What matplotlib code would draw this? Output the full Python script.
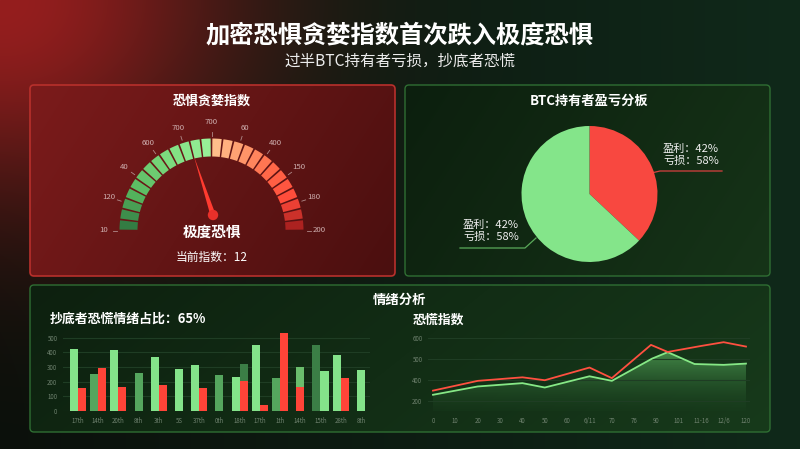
import numpy as np
import matplotlib
matplotlib.use('Agg')
import matplotlib.pyplot as plt
from matplotlib.patches import FancyBboxPatch, Wedge, Polygon, Circle
from matplotlib.colors import to_rgb, LinearSegmentedColormap

plt.rcParams['font.family'] = ['Noto Sans CJK SC', 'DejaVu Sans']

# ---------------- data ----------------
main_title = "加密恐惧贪婪指数首次跌入极度恐惧"
sub_title = "过半BTC持有者亏损，抄底者恐慌"

gauge_title = "恐惧贪婪指数"
gauge_tick_labels = ["10", "120", "40", "600", "700", "700", "60", "400", "150", "180", "200"]
gauge_state = "极度恐惧"
gauge_value_text = "当前指数：12"
needle_position = 0.40          # fraction of the gauge arc, left -> right

pie_title = "BTC持有者盈亏分板"
pie_values = [37, 63]           # red slice, green slice (as drawn)
pie_label_text = "盈利：42%\n亏损：58%"

section_title = "情绪分析"
bar_title = "抄底者恐慌情绪占比：65%"
bar_categories = ["17th", "14th", "20th", "8th", "3th", "5S", "37th", "0th",
                  "18th", "17th", "1th", "14th", "15th", "28th", "8th"]
bar_primary = [424, 253, 417, 258, 369, 286, 313, 244, 235, 449, 224, 0, 454, 382, 281]
bar_primary_shade = ["light", "mid", "light", "mid", "light", "light", "light", "mid",
                     "light", "light", "mid", "light", "dark", "light", "light"]
bar_red = [154, 295, 166, 0, 175, 0, 159, 0, 205, 44, 530, 164, 0, 226, 0]
bar_top = [0, 0, 0, 0, 0, 0, 0, 0, 323, 0, 0, 300, 274, 0, 0]
bar_top_shade = ["", "", "", "", "", "", "", "", "dark", "", "", "mid2", "light", "", ""]
bar_yticks = [0, 100, 200, 300, 400, 500]

line_title = "恐慌指数"
line_categories = ["0", "10", "20", "30", "40", "50", "60", "6/11", "70", "76",
                   "90", "101", "11-16", "12/6", "120"]
red_x = [0, 2, 4, 5, 7, 8, 9.75, 10.5, 12, 13, 14]
red_y = [348, 395, 412, 398, 459, 408, 568, 534, 563, 581, 560]
green_x = [0, 2, 4, 5, 7, 8, 9.8, 10.5, 11.7, 13, 14]
green_y = [328, 368, 384, 363, 417, 395, 502, 533, 476, 472, 478]
line_yticks = [300, 400, 500, 600]
line_yticklabels = ["200", "400", "500", "600"]

# ---------------- figure ----------------
W, H = 800, 449
fig = plt.figure(figsize=(8, 4.49), dpi=100)
bg = fig.add_axes([0, 0, 1, 1])
bg.set_xlim(0, W)
bg.set_ylim(0, H)
bg.axis('off')


def Y(y):
    return H - y


def rgb(h):
    return np.array(to_rgb(h))


# background gradient
yy, xx = np.mgrid[0:H, 0:W].astype(float)
tx = xx / W
base = rgb('#0a100b')[None, None, :] * (1 - tx[..., None]) + rgb('#10291a')[None, None, :] * tx[..., None]
d = np.sqrt(xx ** 2 + (yy * 1.15) ** 2)
wr = np.exp(-(d / 235) ** 2)[..., None]
img = base * (1 - wr) + rgb('#951e1e')[None, None, :] * wr
bg.imshow(img, extent=[0, W, 0, H], origin='upper', aspect='auto', zorder=0)


def panel(x0, y0, x1, y1, c0, c1, edge, lw=1.0, mix=(0.75, 0.25)):
    p = FancyBboxPatch((x0, Y(y1)), x1 - x0, y1 - y0,
                       boxstyle="round,pad=0,rounding_size=4",
                       facecolor='none', edgecolor=edge, lw=lw, zorder=3)
    bg.add_patch(p)
    hh, ww = int(y1 - y0), int(x1 - x0)
    gy, gx = np.mgrid[0:hh, 0:ww].astype(float)
    t = np.clip(mix[0] * gx / ww + mix[1] * gy / hh, 0, 1)[..., None]
    pim = rgb(c0)[None, None, :] * (1 - t) + rgb(c1)[None, None, :] * t
    im = bg.imshow(pim, extent=[x0, x1, Y(y1), Y(y0)], origin='upper', aspect='auto', zorder=1)
    clip = FancyBboxPatch((x0, Y(y1)), x1 - x0, y1 - y0,
                          boxstyle="round,pad=0,rounding_size=4", transform=bg.transData)
    im.set_clip_path(clip)


panel(30, 85, 395, 276, '#7c1b1b', '#4a0f0f', '#b8302c', lw=1.2)
panel(405, 85, 770, 276, '#0c1f0e', '#163418', '#2f6e33')
panel(30, 285, 770, 432, '#0d200f', '#173a1b', '#2f6e33', mix=(0.8, 0.2))
bg.set_xlim(0, W)
bg.set_ylim(0, H)

# titles
bg.text(400, Y(35), main_title, color='white', fontsize=17.5, fontweight='bold',
        ha='center', va='center', zorder=5)
bg.text(400, Y(61), sub_title, color='#ececec', fontsize=11.2,
        ha='center', va='center', zorder=5)

# ---------------- gauge ----------------
bg.text(212, Y(101), gauge_title, color='white', fontsize=9.4, fontweight='bold',
        ha='center', va='center', zorder=5)
cx, cy = 211.5, Y(230.5)
nseg = 26
step = 180 / nseg
seg_cmap = LinearSegmentedColormap.from_list('g', [
    (0.0, '#2f7540'), (0.15, '#58b860'), (0.33, '#7ddc7f'), (0.499, '#9af29a'),
    (0.501, '#ffc490'), (0.62, '#ff9a6c'), (0.75, '#ff6848'), (0.88, '#ff4a3a'),
    (1.0, '#a01c1c')])
for i in range(nseg):
    t2 = 180 - i * step - 0.55
    t1 = 180 - (i + 1) * step + 0.55
    col = seg_cmap((i + 0.5) / nseg)
    bg.add_patch(Wedge((cx, cy), 92, t1, t2, width=18, facecolor=col,
                       edgecolor='none', zorder=4))
for k, lab in enumerate(gauge_tick_labels):
    a = np.deg2rad(180 - k * 18)
    bg.plot([cx + 95 * np.cos(a), cx + 99 * np.cos(a)],
            [cy + 95 * np.sin(a), cy + 99 * np.sin(a)], color='#b08a8a', lw=0.6, zorder=4)
    bg.text(cx + 108 * np.cos(a), cy + 108 * np.sin(a), lab, color='#cfb0b0',
            fontsize=5.6, ha='center', va='center', zorder=5)

px, py = 213, Y(215)
ang = np.deg2rad(180 - needle_position * 180)
L = 62
tipx, tipy = px + L * np.cos(ang), py + L * np.sin(ang)
nx, ny = -np.sin(ang), np.cos(ang)
bg.add_patch(Polygon([[px + 2.6 * nx, py + 2.6 * ny], [tipx, tipy],
                      [px - 2.6 * nx, py - 2.6 * ny]], closed=True,
                     facecolor='#ff3b30', edgecolor='none', zorder=6))
bg.add_patch(Circle((px, py), 5.2, facecolor='#e8302a', edgecolor='none', zorder=7))
bg.text(212, Y(232), gauge_state, color='white', fontsize=10.5, fontweight='bold',
        ha='center', va='center', zorder=7)
bg.text(212, Y(257), gauge_value_text, color='white', fontsize=8.5,
        ha='center', va='center', zorder=7)

# ---------------- pie ----------------
bg.text(589, Y(101), pie_title, color='white', fontsize=9.5, fontweight='bold',
        ha='center', va='center', zorder=5)
pcx, pcy, pr = 589.5, 194, 68
pax = fig.add_axes([(pcx - 85) / W, (H - pcy - 85) / H, 170 / W, 170 / H])
pax.pie(pie_values, colors=['#f84840', '#84e58a'], startangle=90, counterclock=False,
        radius=1, wedgeprops=dict(edgecolor='none'))
pax.set_xlim(-1.25, 1.25)
pax.set_ylim(-1.25, 1.25)
pax.axis('off')
# leader lines
bg.plot([643, 660, 722], [Y(175), Y(171), Y(171)], color='#d84040', lw=0.9, zorder=5)
bg.add_patch(Circle((643, Y(175)), 1.3, facecolor='#ff9a90', edgecolor='none', zorder=6))
bg.text(663, Y(155), pie_label_text, color='#f0f0f0', fontsize=8, ha='left',
        va='center', linespacing=1.25, zorder=5)
bg.plot([536, 525, 460], [Y(238), Y(248), Y(248)], color='#5aaa5a', lw=0.9, zorder=5)
bg.text(463, Y(231), pie_label_text, color='#f0f0f0', fontsize=8, ha='left',
        va='center', linespacing=1.25, zorder=5)

# ---------------- bottom section ----------------
bg.text(400, Y(300), section_title, color='white', fontsize=9.6, fontweight='bold',
        ha='center', va='center', zorder=5)
bg.text(50, Y(319), bar_title, color='white', fontsize=9.3, fontweight='bold',
        ha='left', va='center', zorder=5)
bg.text(413, Y(320), line_title, color='white', fontsize=9.3, fontweight='bold',
        ha='left', va='center', zorder=5)

shade = {"light": '#84e38a', "mid": '#55a65e', "dark": '#3b7e46', "mid2": '#6abd6c'}
RED = '#ff4438'

bax = fig.add_axes([63 / W, (H - 411) / H, (370 - 63) / W, (411 - 332) / H])
bax.set_facecolor('none')
bw = 0.4
for i in range(len(bar_categories)):
    has_p = bar_primary[i] > 0
    has_s = bar_red[i] > 0 or bar_top[i] > 0
    if has_p and has_s:
        xp, xs = i - 0.2, i + 0.2
    else:
        xp = xs = i
    if has_p:
        bax.bar(xp, bar_primary[i], width=bw, color=shade[bar_primary_shade[i]], zorder=3)
    if bar_top[i] > 0:
        bax.bar(xs, bar_top[i] - bar_red[i], bottom=bar_red[i], width=bw,
                color=shade[bar_top_shade[i]], zorder=3)
    if bar_red[i] > 0:
        bax.bar(xs, bar_red[i], width=bw, color=RED, zorder=3)
bax.set_xlim(-0.74, 14.45)
bax.set_ylim(0, 540)
bax.set_yticks(bar_yticks)
bax.set_xticks(range(len(bar_categories)))
bax.set_xticklabels(bar_categories)
bax.grid(axis='y', color='#1f3d24', lw=0.8, zorder=0)
for s in bax.spines.values():
    s.set_visible(False)
bax.tick_params(axis='both', length=0, colors='#6f826f', labelsize=4.4)
bax.tick_params(axis='y', pad=4)
bax.tick_params(axis='x', pad=4)

lax = fig.add_axes([428 / W, (H - 411) / H, (750 - 428) / W, (411 - 332) / H])
lax.set_facecolor('none')
poly = lax.fill_between(green_x, green_y, 250, color='none')
grad = np.linspace(1, 0, 256)[:, None]
gcmap = LinearSegmentedColormap.from_list('gf', [(0.10, 0.25, 0.12, 0.25),
                                                 (0.30, 0.60, 0.32, 0.85)])
gim = lax.imshow(grad, extent=[green_x[0], green_x[-1], 250, max(green_y)],
                 aspect='auto', cmap=gcmap, origin='upper', zorder=1)
gim.set_clip_path(poly.get_paths()[0], transform=lax.transData)
lax.plot(green_x, green_y, color='#86e886', lw=1.3, zorder=3)
lax.plot(red_x, red_y, color='#ff5040', lw=1.3, zorder=3)
lax.set_xlim(-0.224, 14.18)
lax.set_ylim(250, 630)
lax.set_yticks(line_yticks)
lax.set_yticklabels(line_yticklabels)
lax.set_xticks(range(len(line_categories)))
lax.set_xticklabels(line_categories)
lax.grid(axis='y', color='#1f3d24', lw=0.8, zorder=0)
for s in lax.spines.values():
    s.set_visible(False)
lax.tick_params(axis='both', length=0, colors='#6f826f', labelsize=4.4)
lax.tick_params(axis='y', pad=4)
lax.tick_params(axis='x', pad=4)

fig.savefig('out.png', dpi=100, facecolor='black')
